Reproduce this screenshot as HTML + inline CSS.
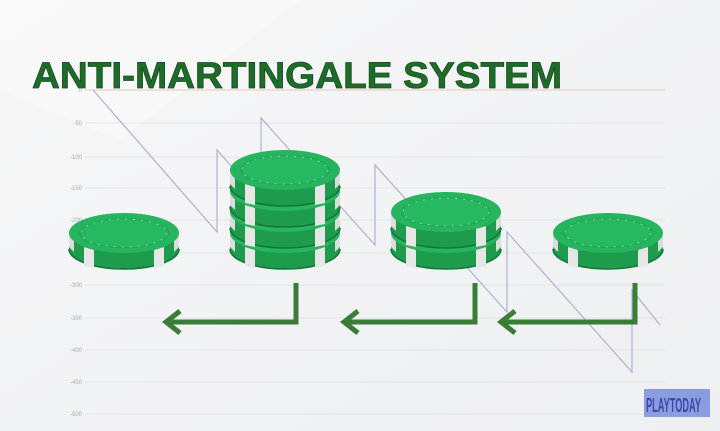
<!DOCTYPE html>
<html><head><meta charset="utf-8"><style>
html,body{margin:0;padding:0;width:720px;height:431px;overflow:hidden;background:#f3f4f6;}
</style></head><body>
<svg width="720" height="431" viewBox="0 0 720 431" xmlns="http://www.w3.org/2000/svg" font-family="Liberation Sans, sans-serif">
<defs>
<linearGradient id="bg" x1="0" y1="0" x2="1" y2="1"><stop offset="0" stop-color="#f7f7f8"/><stop offset="1" stop-color="#eeeff1"/></linearGradient>
<g id="chip">
  <path d="M-55,0 L-55,16 A55,20 0 0 0 55,16 L55,0 Z" fill="#1c9c4c"/>
  <path d="M-55,16 A55,20 0 0 0 55,16" fill="none" stroke="#13773a" stroke-width="1.5"/>
  <path d="M-40,14 L-40,33 L-30,35 L-30,17 Z" fill="#e6e6e6"/>
  <path d="M30,17 L30,35 L40,33 L40,14 Z" fill="#e6e6e6"/>
  <path d="M-55,0 L-55,14 L-50,19 L-50,3 Z" fill="#dcdcdc"/>
  <path d="M50,3 L50,19 L55,14 L55,0 Z" fill="#dcdcdc"/>
  <ellipse cx="0" cy="0" rx="55" ry="20" fill="#26b45e"/>
  <ellipse cx="0" cy="0" rx="45" ry="15" fill="#21a856"/>
  <ellipse cx="0" cy="0" rx="43" ry="14" fill="#27b862" stroke="#9de0b5" stroke-width="0.8" stroke-dasharray="2 6"/>
</g>
</defs>
<rect width="720" height="431" fill="url(#bg)"/>
<polygon points="0,0 300,0 120,140 0,90" fill="#fafafa" opacity="0.7"/>
<g stroke="#e4e4e6" stroke-width="1">
<line x1="85" y1="123" x2="665" y2="123"/><line x1="85" y1="157" x2="665" y2="157"/><line x1="85" y1="188" x2="665" y2="188"/><line x1="85" y1="220" x2="665" y2="220"/><line x1="85" y1="253" x2="665" y2="253"/><line x1="85" y1="285" x2="665" y2="285"/><line x1="85" y1="318" x2="665" y2="318"/><line x1="85" y1="350" x2="665" y2="350"/><line x1="85" y1="382" x2="665" y2="382"/><line x1="85" y1="414" x2="665" y2="414"/>
</g>
<line x1="85" y1="90" x2="665" y2="90" stroke="#e8c9c0" stroke-width="1"/>
<g font-size="6" fill="#aaa" text-anchor="end">
<text x="82" y="92">0</text><text x="82" y="125">-50</text><text x="82" y="159">-100</text><text x="82" y="190">-150</text><text x="82" y="222">-200</text><text x="82" y="255">-250</text><text x="82" y="287">-300</text><text x="82" y="320">-350</text><text x="82" y="352">-400</text><text x="82" y="384">-450</text><text x="82" y="416">-500</text>
</g>
<polyline points="93,90 217,232 217,150 261,200 261,118 375,245 375,165 507,312 507,232 632,372 632,290 660,325" fill="none" stroke="#aab4d0" stroke-width="1.2"/>
<text x="32" y="88" font-size="37" font-weight="bold" fill="#1f6b2a" stroke="#16501e" stroke-width="0.8" textLength="530" lengthAdjust="spacingAndGlyphs">ANTI-MARTINGALE SYSTEM</text>
<use href="#chip" x="124" y="233"/>
<use href="#chip" x="285" y="233"/>
<use href="#chip" x="285" y="212"/>
<use href="#chip" x="285" y="191"/>
<use href="#chip" x="285" y="170"/>
<use href="#chip" x="446" y="233"/>
<use href="#chip" x="446" y="212"/>
<use href="#chip" x="608" y="233"/>
<g fill="none" stroke="#3a7d36" stroke-width="5">
<polyline points="296,283 296,322 166,322"/>
<polyline points="180,311 166,322 180,333"/>
<polyline points="475,283 475,322 344,322"/>
<polyline points="358,311 344,322 358,333"/>
<polyline points="635,283 635,322 501,322"/>
<polyline points="515,311 501,322 515,333"/>
</g>
<rect x="644" y="389" width="66" height="28" fill="#8c9ce0"/>
<text x="646" y="412" font-size="20" fill="#3a4aa8" font-weight="bold" textLength="55" lengthAdjust="spacingAndGlyphs">PLAYTODAY</text>
</svg>
</body></html>
